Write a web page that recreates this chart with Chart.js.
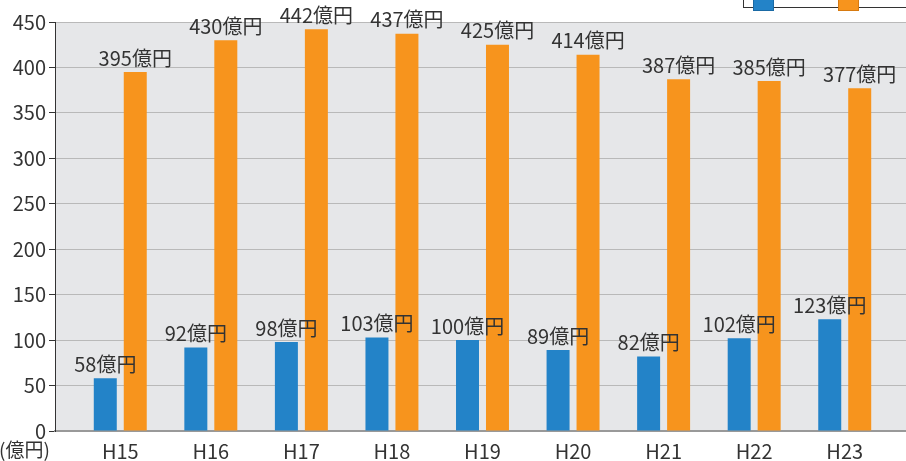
<!DOCTYPE html>
<html>
<head>
<meta charset="utf-8">
<script src="https://cdn.jsdelivr.net/npm/chart.js@4.4.1/dist/chart.umd.min.js"></script>
<style>
  html, body { margin: 0; padding: 0; background: #fff; }
  #wrap { position: relative; width: 906px; height: 461px; overflow: hidden; }
  #legendBox { position: absolute; left: 743px; top: -30px; width: 170px; height: 36px; border: 1px solid #333; background: #fff; }
  .sw { position: absolute; top: 26px; width: 19px; height: 12px; }
</style>
</head>
<body>
<div id="wrap">
  <canvas id="chart" width="906" height="461"></canvas>
  <div id="legendBox">
    <div class="sw" style="left:9px;background:#2383c8;border:1px solid #1a6aa5"></div>
    <div class="sw" style="left:94px;background:#f7941d;border:1px solid #d77a10"></div>
  </div>
</div>
<script>
const categories = ['H15', 'H16', 'H17', 'H18', 'H19', 'H20', 'H21', 'H22', 'H23'];
const blueValues = [58, 92, 98, 103, 100, 89, 82, 102, 123];
const orangeValues = [395, 430, 442, 437, 425, 414, 387, 385, 377];
const yTicks = [0, 50, 100, 150, 200, 250, 300, 350, 400, 450];
const unitLabel = '(億円)';

const fontFamily = '"Noto Sans CJK JP", "Noto Sans", sans-serif';

// gray plot background
const bgPlugin = {
    id: 'bg',
    beforeDraw(chart) {
        const a = chart.chartArea;
        const ctx = chart.ctx;
        ctx.save();
        ctx.fillStyle = '#e6e7e9';
        ctx.fillRect(a.left, a.top, a.right - a.left, a.bottom - a.top);
        ctx.restore();
    }
};

// value labels above bars + unit label
const labelPlugin = {
    id: 'labels',
    afterDatasetsDraw(chart) {
        const ctx = chart.ctx;
        ctx.save();
        ctx.font = '20px ' + fontFamily;
        ctx.fillStyle = '#333';
        ctx.textAlign = 'center';
        ctx.textBaseline = 'bottom';
        chart.data.datasets.forEach((ds, i) => {
            chart.getDatasetMeta(i).data.forEach((bar, j) => {
                ctx.fillText(ds.data[j] + '億円', bar.x, bar.y - 4);
            });
        });
        ctx.textAlign = 'left';
        ctx.textBaseline = 'middle';
        ctx.font = '19px ' + fontFamily;
        ctx.fillText(unitLabel, -1, chart.chartArea.bottom + 19);
        ctx.restore();
    }
};

new Chart(document.getElementById('chart'), {
    type: 'bar',
    data: {
        labels: categories,
        datasets: [
            { data: blueValues, backgroundColor: '#2383c8', categoryPercentage: 0.662, barPercentage: 0.767 },
            { data: orangeValues, backgroundColor: '#f7941d', categoryPercentage: 0.662, barPercentage: 0.767 }
        ]
    },
    options: {
        responsive: false,
        animation: false,
        layout: { padding: { top: 22, right: 0, left: 0, bottom: 0 } },
        plugins: { legend: { display: false }, tooltip: { enabled: false } },
        scales: {
            x: {
                grid: { display: false },
                border: { color: '#999', width: 2 },
                ticks: { color: '#333', font: { family: fontFamily, size: 20 }, padding: 0 },
                afterFit(scale) { scale.height = 30; },
                afterBuildTicks(scale) {
                    // extra room at both ends of the category axis
                    scale._startValue = -0.5 - 20 / 90.6;
                    scale._valueRange = categories.length + 36 / 90.6;
                }
            },
            y: {
                min: 0,
                max: 450,
                afterBuildTicks(scale) { scale.ticks = yTicks.map(v => ({ value: v })); },
                grid: { color: '#b9b9b9', tickColor: '#333', tickLength: 6, lineWidth: 1 },
                border: { color: '#333', width: 1 },
                ticks: { color: '#333', font: { family: fontFamily, size: 20 }, padding: 3 },
                afterFit(scale) { scale.width = 55; }
            }
        }
    },
    plugins: [bgPlugin, labelPlugin]
});
</script>
</body>
</html>
